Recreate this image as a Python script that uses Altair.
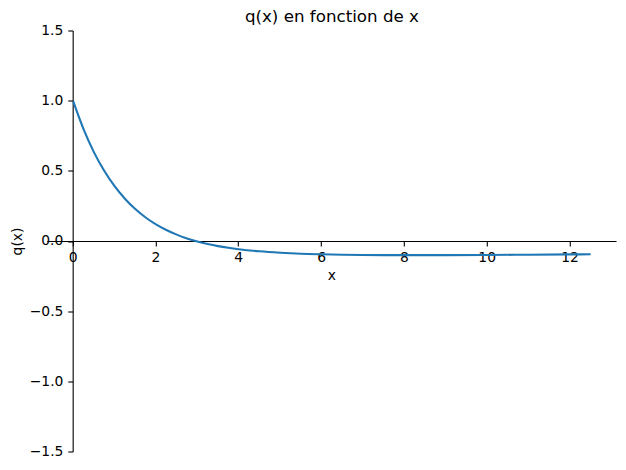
import altair as alt
import pandas as pd

# Data
x_vals = [0.0, 0.25, 0.5, 0.75, 1.0, 1.25, 1.5, 1.75, 2.0, 2.25, 2.5, 2.75,
          3.0, 3.25, 3.5, 3.75, 4.0, 4.5, 5.0, 5.5, 6.0, 6.5, 7.0, 7.5,
          8.0, 9.0, 10.0, 11.0, 12.0, 12.5]
q_vals = [1.0, 0.801, 0.637, 0.504, 0.394, 0.305, 0.231, 0.171, 0.122, 0.082,
          0.049, 0.022, 0.000, -0.018, -0.033, -0.045, -0.055, -0.070, -0.080,
          -0.087, -0.091, -0.094, -0.096, -0.097, -0.097, -0.097, -0.096,
          -0.094, -0.092, -0.091]

x_ticks = [0, 2, 4, 6, 8, 10, 12]
y_ticks = [-1.5, -1.0, -0.5, 0.0, 0.5, 1.0, 1.5]

df = pd.DataFrame({"x": x_vals, "q": q_vals})

W = 569.25
H = 421.0
x_dom = [-0.625, 13.125]
y_dom = [-1.5, 1.5]
x0_px = (0 - x_dom[0]) / (x_dom[1] - x_dom[0]) * W
y0_px = H / 2

FONT = "DejaVu Sans"
common_axis = dict(
    grid=False, domainColor="black", domainWidth=1.1, tickColor="black",
    tickWidth=1.1, tickSize=4.9, labelPadding=4.9, labelFontSize=13.9,
    labelFont=FONT, labelColor="black", titleFont=FONT, titleFontSize=13.9,
    titleFontWeight="normal", titleColor="black", labelFlush=False,
    labelOverlap=False, translate=0,
)

chart = alt.Chart(df).mark_line(
    color="#1f77b4", strokeWidth=2.1, interpolate="monotone", clip=False
).encode(
    x=alt.X("x:Q", scale=alt.Scale(domain=x_dom, nice=False, zero=False),
            axis=alt.Axis(title="x", values=x_ticks, format="d",
                          offset=-y0_px, titlePadding=4, **common_axis)),
    y=alt.Y("q:Q", scale=alt.Scale(domain=y_dom, nice=False, zero=False),
            axis=alt.Axis(title="q(x)", values=y_ticks, format=".1f",
                          offset=-x0_px, titlePadding=5, **common_axis)),
).properties(
    width=W, height=H,
    title=alt.TitleParams("q(x) en fonction de x", font=FONT, fontSize=16.7,
                          fontWeight="normal", color="black", anchor="middle",
                          baseline="alphabetic", offset=-15),
    autosize=alt.AutoSizeParams(type="none"),
    padding={"left": 39.3, "top": 23, "right": 1, "bottom": 10},
).configure_view(stroke=None)

chart.save("out.html", embed_options={"renderer": "svg", "actions": False})
